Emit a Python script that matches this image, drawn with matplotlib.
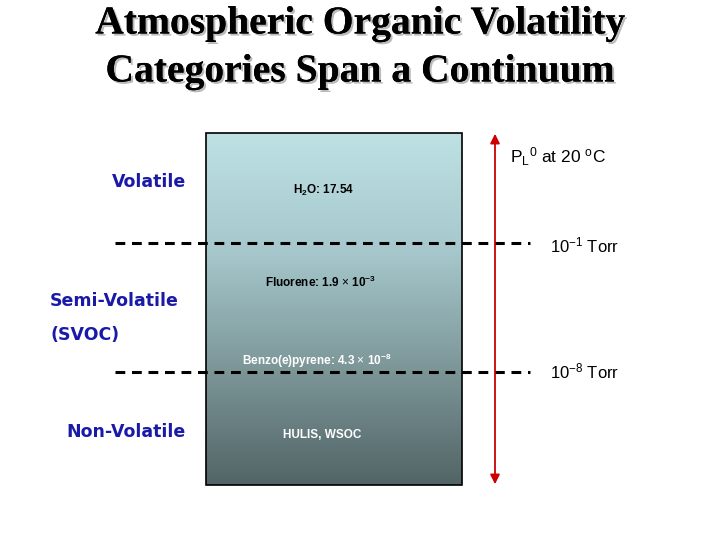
import matplotlib
matplotlib.use("Agg")
import matplotlib.pyplot as plt
import matplotlib.patheffects as pe
import numpy as np
from matplotlib.colors import LinearSegmentedColormap

plt.rcParams["mathtext.fontset"] = "custom"
plt.rcParams["mathtext.rm"] = "Liberation Sans"
plt.rcParams["mathtext.it"] = "Liberation Sans:italic"
plt.rcParams["mathtext.bf"] = "Liberation Sans:bold"

title_lines = ["Atmospheric Organic Volatility", "Categories Span a Continuum"]
categories = ["Volatile", "Semi-Volatile\n(SVOC)", "Non-Volatile"]
compounds = [r"H$_\mathbf{2}$O: 17.54", r"Fluorene: 1.9 $\times$ 10$^\mathbf{-3}$",
             r"Benzo(e)pyrene: 4.3 $\times$ 10$^\mathbf{-8}$", "HULIS, WSOC"]
thresholds = [r"10$^\mathrm{-1}$ Torr", r"10$^\mathrm{-8}$ Torr"]

fig = plt.figure(figsize=(7.2, 5.4), dpi=100)
ax = fig.add_axes([0, 0, 1, 1])
ax.set_xlim(0, 720); ax.set_ylim(540, 0); ax.axis("off")

cmap = LinearSegmentedColormap.from_list("g", ["#bee1e4", "#a6c8cc", "#7d9799", "#526466"])
grad = np.linspace(0, 1, 256).reshape(-1, 1)
ax.imshow(grad, cmap=cmap, aspect="auto", extent=(206, 462, 485, 133), zorder=1)
ax.add_patch(plt.Rectangle((206, 133), 256, 352, fill=False, ec="black", lw=1.2, zorder=2))

for i, t in enumerate(title_lines):
    ax.text(360, 24 + 48 * i, t, ha="center", va="center", fontsize=28.5, fontweight="bold",
            family="Liberation Serif", color="black",
            path_effects=[pe.withSimplePatchShadow(offset=(1.5, -1.5), shadow_rgbFace="#aaaaaa", alpha=0.8), pe.Normal()])

for y in (243, 372):
    ax.plot([115, 530], [y, y], ls=(0, (3.2, 2.2)), color="black", lw=2.2, zorder=3)

ax.annotate("", xy=(495, 131), xytext=(495, 487),
            arrowprops=dict(arrowstyle="<|-|>", color="#cc0000", lw=1.3, mutation_scale=14), zorder=4)

blue = "#1a1aa8"
kw = dict(va="center", fontsize=12.5, fontweight="bold", color=blue)
ax.text(186, 182, categories[0], ha="right", **kw)
ax.text(50, 301, "Semi-Volatile", ha="left", **kw)
ax.text(50, 335, "(SVOC)", ha="left", **kw)
ax.text(186, 432, categories[2], ha="right", **kw)

cpos = [(293, 190, "black"), (265, 282, "black"), (242, 361, "white"), (283, 435, "white")]
for (x, y, c), t in zip(cpos, compounds):
    ax.text(x, y, t, ha="left", va="center", fontsize=8.5, fontweight="bold",
            family="Liberation Sans", color=c, zorder=5)

ax.text(510, 157, r"P$_\mathrm{L}$$^\mathrm{0}$ at 20 $^\mathrm{o}$C", ha="left", va="center",
        fontsize=12.5, family="Liberation Sans")
for y, t in zip((245, 371), thresholds):
    ax.text(550, y, t, ha="left", va="center", fontsize=12, family="Liberation Sans")

fig.savefig("out.png", dpi=100)
